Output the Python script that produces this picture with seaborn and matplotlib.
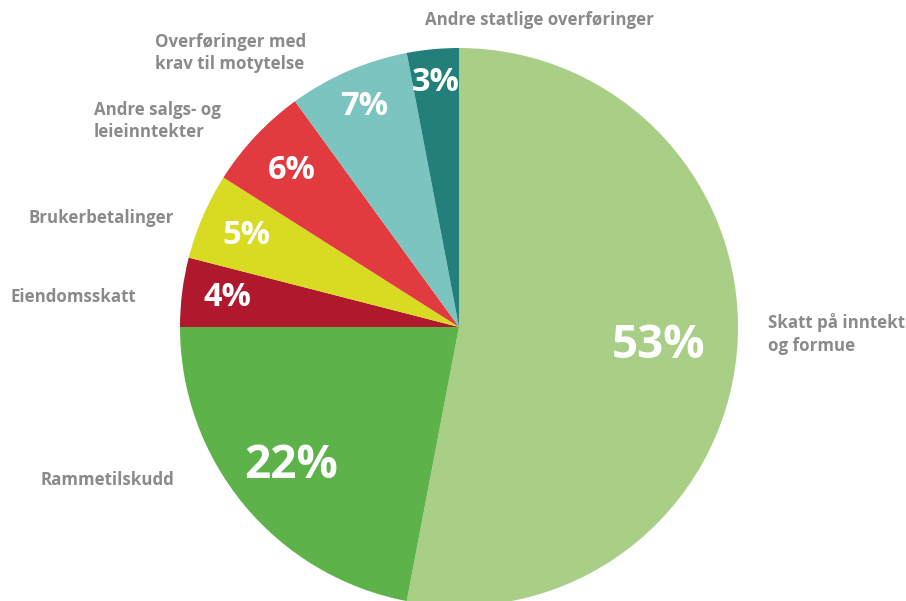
import matplotlib
matplotlib.use("Agg")
import matplotlib.pyplot as plt
import numpy as np
import seaborn as sns

# kommunens inntekter, andeler i prosent
categories = ["Skatt på inntekt\nog formue", "Rammetilskudd", "Eiendomsskatt",
              "Brukerbetalinger", "Andre salgs- og\nleieinntekter",
              "Overføringer med\nkrav til motytelse", "Andre statlige overføringer"]
shares = [53, 22, 4, 5, 6, 7, 3]
colors = ["#a9cf87", "#5db34a", "#b0182e", "#d8db22", "#e13a3f", "#7cc4bf", "#237f7a"]

sns.set_theme(style="white")
plt.rcParams["font.family"] = ["Open Sans", "DejaVu Sans"]

W, H = 906, 601
fig = plt.figure(figsize=(W / 100, H / 100), dpi=100)
ax = fig.add_axes([0, 0, 1, 1])

cx, cy, R = 459, H - 327, 279
wedges, _ = ax.pie(shares, colors=colors, startangle=90, counterclock=False,
                   radius=R, center=(cx, cy), wedgeprops=dict(linewidth=0))
ax.set_xlim(0, W)
ax.set_ylim(0, H)
ax.set_aspect("equal")
ax.axis("off")

# percent labels inside the slices
pct_dist = [0.72, 0.78, 0.835, 0.83, 0.82, 0.86, 0.88]
pct_size = [33, 33, 23.5, 23.5, 23.5, 23.5, 23.5]
for w, v, d, fs in zip(wedges, shares, pct_dist, pct_size):
    mid = np.deg2rad((w.theta1 + w.theta2) / 2)
    ax.text(cx + d * R * np.cos(mid), cy + d * R * np.sin(mid), f"{v}%",
            color="white", fontsize=fs, fontweight="bold", ha="center", va="center")

# category labels outside (pixel positions of the text block, top-left origin)
label_pos = [(768, 334), (40, 480), (11, 297), (28, 218), (94, 121), (155, 53), (425, 20)]
for name, (x, y) in zip(categories, label_pos):
    ax.text(x, H - y, name, color="#8a8a8a", fontsize=12.2, fontweight="bold",
            ha="left", va="center", linespacing=1.3)

fig.savefig("out.png", dpi=100, facecolor="white")
